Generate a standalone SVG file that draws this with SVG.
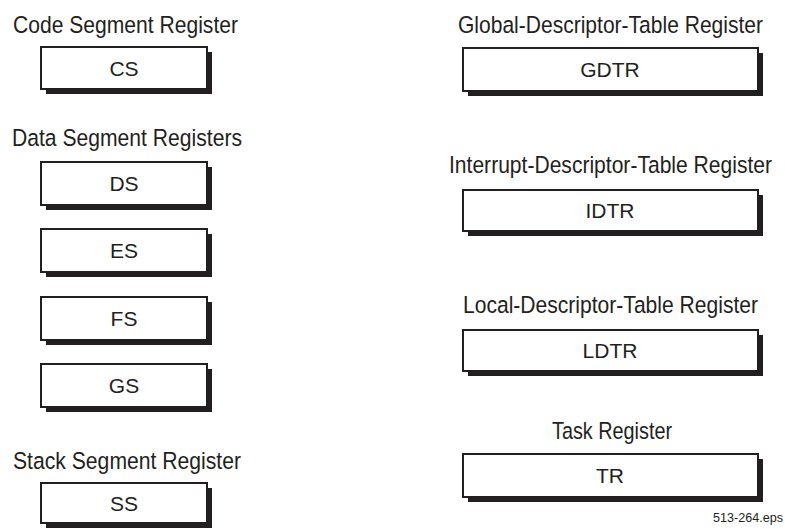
<svg xmlns="http://www.w3.org/2000/svg" width="785" height="529" viewBox="0 0 785 529">
<style>
text{font-family:"Liberation Sans Narrow","Liberation Sans",Arial,sans-serif;fill:#231f20}
.lbl{font-size:24.5px}
.reg{font-size:21px;text-anchor:middle}
.box{fill:#fff;stroke:#231f20;stroke-width:2}
.sh{fill:#231f20}
.ft{font-size:12px}
</style>
<rect width="785" height="529" fill="#fff"/>
<g id="code-label"><text class="lbl" x="13" y="33" textLength="225" lengthAdjust="spacingAndGlyphs">Code Segment Register</text></g>
<g id="CS"><rect class="sh" x="46" y="52" width="166" height="42"/><rect class="box" x="41" y="47" width="166" height="42"/><text class="reg" x="124" y="76">CS</text></g>
<g id="data-label"><text class="lbl" x="12" y="146" textLength="230" lengthAdjust="spacingAndGlyphs">Data Segment Registers</text></g>
<g id="DS"><rect class="sh" x="46" y="167" width="166" height="43"/><rect class="box" x="41" y="162" width="166" height="43"/><text class="reg" x="124" y="191">DS</text></g>
<g id="ES"><rect class="sh" x="46" y="234" width="166" height="43"/><rect class="box" x="41" y="229" width="166" height="43"/><text class="reg" x="124" y="258">ES</text></g>
<g id="FS"><rect class="sh" x="46" y="302" width="166" height="43"/><rect class="box" x="41" y="297" width="166" height="43"/><text class="reg" x="124" y="326">FS</text></g>
<g id="GS"><rect class="sh" x="46" y="369" width="166" height="43"/><rect class="box" x="41" y="364" width="166" height="43"/><text class="reg" x="124" y="393">GS</text></g>
<g id="stack-label"><text class="lbl" x="13" y="469" textLength="228" lengthAdjust="spacingAndGlyphs">Stack Segment Register</text></g>
<g id="SS"><rect class="sh" x="46" y="488" width="166" height="40"/><rect class="box" x="41" y="483" width="166" height="40"/><text class="reg" x="124" y="511">SS</text></g>
<g id="gdtr-label"><text class="lbl" x="458" y="33" textLength="305" lengthAdjust="spacingAndGlyphs">Global-Descriptor-Table Register</text></g>
<g id="GDTR"><rect class="sh" x="468" y="53" width="295" height="43"/><rect class="box" x="463" y="48" width="295" height="43"/><text class="reg" x="610" y="77">GDTR</text></g>
<g id="idtr-label"><text class="lbl" x="449" y="173" textLength="323" lengthAdjust="spacingAndGlyphs">Interrupt-Descriptor-Table Register</text></g>
<g id="IDTR"><rect class="sh" x="468" y="195" width="295" height="41"/><rect class="box" x="463" y="190" width="295" height="41"/><text class="reg" x="610" y="218">IDTR</text></g>
<g id="ldtr-label"><text class="lbl" x="463" y="313" textLength="295" lengthAdjust="spacingAndGlyphs">Local-Descriptor-Table Register</text></g>
<g id="LDTR"><rect class="sh" x="468" y="335" width="295" height="41"/><rect class="box" x="463" y="330" width="295" height="41"/><text class="reg" x="610" y="358">LDTR</text></g>
<g id="tr-label"><text class="lbl" x="552" y="439" textLength="120" lengthAdjust="spacingAndGlyphs">Task Register</text></g>
<g id="TR"><rect class="sh" x="468" y="459" width="295" height="43"/><rect class="box" x="463" y="454" width="295" height="43"/><text class="reg" x="610" y="483">TR</text></g>
<g id="connectors"></g>
<text class="ft" x="713" y="522" textLength="70" lengthAdjust="spacingAndGlyphs">513-264.eps</text>
</svg>
